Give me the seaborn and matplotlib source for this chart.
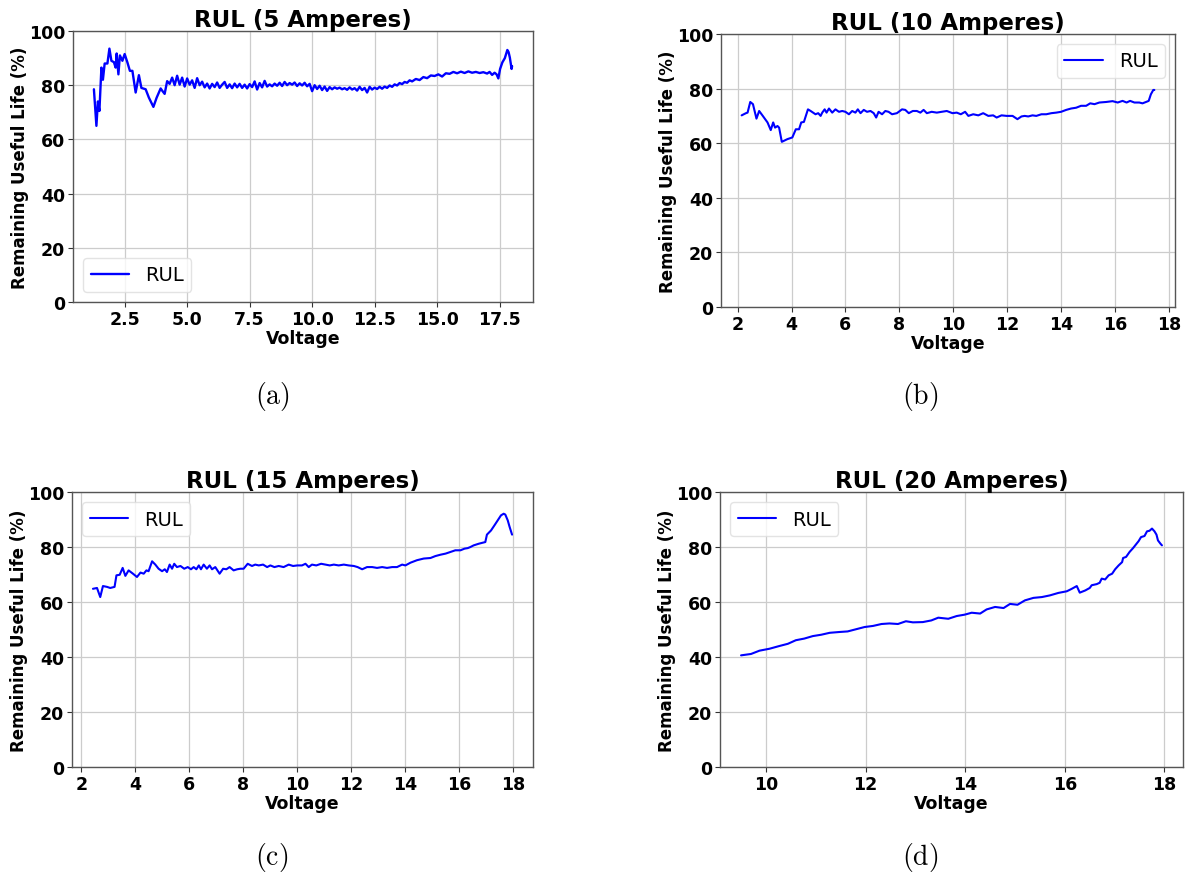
import numpy as np
import pandas as pd
import matplotlib
matplotlib.use("Agg")
import matplotlib.pyplot as plt
import seaborn as sns

# ---------------- data ----------------
titles = ["RUL (5 Amperes)", "RUL (10 Amperes)", "RUL (15 Amperes)", "RUL (20 Amperes)"]
captions = ["(a)", "(b)", "(c)", "(d)"]
legend_locs = ["lower left", "upper right", "upper left", "upper left"]

volt_5a = [1.27, 1.37, 1.43, 1.49, 1.57, 1.63, 1.70, 1.81, 1.89, 1.97, 2.07, 2.14, 2.18, 2.25,
           2.31, 2.41, 2.50, 2.61, 2.71, 2.81, 2.94, 3.07, 3.17, 3.34, 3.47, 3.65, 3.78, 3.94,
           4.0, 4.1, 4.2, 4.3, 4.4, 4.5, 4.6, 4.7, 4.8, 4.9,
           5.0, 5.1, 5.2, 5.3, 5.4, 5.5, 5.6, 5.7, 5.8, 5.9,
           6.0, 6.1, 6.2, 6.3, 6.4, 6.5, 6.6, 6.7, 6.8, 6.9,
           7.0, 7.1, 7.2, 7.3, 7.4, 7.5, 7.6, 7.7, 7.8, 7.9,
           8.0, 8.1, 8.2, 8.3, 8.4, 8.5, 8.6, 8.7, 8.8, 8.9,
           9.0, 9.1, 9.2, 9.3, 9.4, 9.5, 9.6, 9.7, 9.8, 9.9,
           10.0, 10.1, 10.2, 10.3, 10.4, 10.5, 10.6, 10.7, 10.8, 10.9,
           11.0, 11.1, 11.2, 11.3, 11.4, 11.5, 11.6, 11.7, 11.8, 11.9,
           12.0, 12.1, 12.2, 12.3, 12.4, 12.5, 12.6, 12.7, 12.8, 12.9,
           13.0, 13.1, 13.2, 13.3, 13.4, 13.5, 13.6, 13.7, 13.8, 13.9,
           14.0, 14.15, 14.3, 14.45, 14.6, 14.75, 14.9, 15.05, 15.2, 15.35, 15.5, 15.65, 15.8,
           15.95, 16.1, 16.25, 16.4, 16.55, 16.7, 16.85, 17.0, 17.1, 17.2, 17.3, 17.38, 17.45,
           17.52, 17.61, 17.71, 17.81, 17.86, 17.91, 17.98, 18.0]
rul_5a = [78.5, 65.0, 74.0, 70.5, 86.5, 82.0, 88.0, 88.0, 93.5, 89.0, 88.5, 86.5, 91.7, 84.0,
          91.0, 89.0, 91.5, 88.4, 85.3, 85.3, 77.3, 83.7, 79.0, 78.5, 75.4, 72.0, 75.4, 78.8,
          78.0, 76.8, 81.5, 80.5, 82.8, 80.0, 83.5, 80.2, 82.8, 79.5,
          82.5, 80.2, 81.8, 79.0, 82.6, 80.0, 81.3, 79.2, 80.6, 78.8,
          80.5, 79.3, 81.0, 79.0, 80.2, 81.2, 79.0, 80.3, 78.9, 80.6,
          79.2, 80.5, 79.0, 80.2, 78.8, 80.4, 79.3, 81.4, 78.4, 80.8,
          79.2, 81.6, 79.5, 80.3, 79.6, 80.6, 79.8, 80.9, 79.7, 81.2,
          80.0, 80.8, 80.2, 81.0, 79.7, 80.7, 79.9, 80.9, 79.6, 80.5,
          77.8, 80.0, 78.6, 79.8, 78.2, 79.5, 77.9, 79.3, 78.5, 79.2,
          78.7, 79.1, 78.5, 78.9, 78.3, 79.2, 78.4, 78.9, 78.0, 79.4,
          78.2, 79.0, 77.3, 79.4, 78.4, 79.1, 78.6, 79.4, 78.7, 79.5,
          79.0, 79.9, 79.4, 80.3, 79.9, 80.8, 80.4, 81.2, 80.9, 81.8,
          81.4, 82.3, 81.9, 83.0, 82.6, 83.6, 83.4, 84.0, 83.2, 84.4, 84.2, 84.9, 84.4,
          85.0, 84.5, 85.1, 84.6, 84.9, 84.5, 84.8, 84.3, 84.9, 83.8, 84.6, 84.0, 82.5,
          86.0, 88.4, 90.0, 93.0, 92.2, 90.2, 86.0, 87.0]

volt_10a = [2.15, 2.31, 2.37, 2.47, 2.57, 2.70, 2.80, 2.92, 3.11, 3.23, 3.32, 3.39, 3.48, 3.54,
            3.64, 3.85, 4.03, 4.16, 4.28, 4.36, 4.46, 4.61, 4.71, 4.89, 4.99, 5.08, 5.14, 5.23,
            5.30, 5.39, 5.51, 5.63, 5.76, 5.88, 6.00, 6.13, 6.25, 6.37, 6.46, 6.56, 6.68, 6.80,
            6.93, 7.05, 7.14, 7.23, 7.36, 7.48, 7.60, 7.73, 7.91, 8.10, 8.22, 8.35, 8.50, 8.65,
            8.78, 8.90, 9.02, 9.20, 9.39, 9.57, 9.76, 9.97, 10.13, 10.28, 10.44, 10.56, 10.74,
            10.93, 11.11, 11.30, 11.48, 11.61, 11.79, 11.98, 12.20, 12.38, 12.53, 12.65, 12.78,
            12.94, 13.08, 13.27, 13.45, 13.64, 13.82, 14.00, 14.19, 14.37, 14.56, 14.74, 14.93,
            15.08, 15.24, 15.42, 15.67, 15.91, 16.10, 16.28, 16.43, 16.56, 16.72, 16.90, 17.02,
            17.15, 17.25, 17.33, 17.42, 17.46]
rul_10a = [70.2, 71.0, 71.2, 75.1, 74.3, 69.0, 71.8, 70.2, 67.6, 64.8, 67.6, 65.7, 66.3, 65.7,
           60.5, 61.5, 62.1, 65.1, 65.1, 67.6, 67.8, 72.4, 71.8, 70.6, 71.0, 70.0, 71.2, 72.4,
           71.2, 72.7, 71.2, 72.4, 71.5, 71.8, 71.5, 70.6, 71.8, 71.2, 72.4, 71.0, 72.2, 71.5,
           71.8, 71.0, 69.4, 71.5, 70.6, 71.8, 71.5, 70.6, 71.0, 72.4, 72.2, 71.0, 71.8, 71.8,
           71.2, 72.2, 71.0, 71.5, 71.2, 71.5, 71.8, 71.0, 71.2, 70.6, 71.5, 70.0, 70.6, 70.2,
           71.0, 70.0, 70.2, 69.4, 70.2, 70.0, 70.0, 68.8, 69.8, 70.0, 69.8, 70.2, 70.0, 70.6,
           70.6, 71.0, 71.2, 71.5, 72.2, 72.7, 73.0, 73.7, 73.7, 74.6, 74.3, 74.9, 75.1, 75.4,
           74.9, 75.5, 74.9, 75.5, 74.9, 74.9, 74.6, 75.1, 75.5, 77.9, 79.5, 79.5]

volt_15a = [2.43, 2.58, 2.70, 2.80, 2.95, 3.07, 3.23, 3.30, 3.42, 3.53, 3.63, 3.75, 3.91, 4.06,
            4.19, 4.31, 4.41, 4.49, 4.62, 4.74, 4.86, 4.99, 5.09, 5.17, 5.27, 5.36, 5.44, 5.54,
            5.67, 5.81, 5.94, 6.06, 6.16, 6.26, 6.35, 6.43, 6.53, 6.65, 6.75, 6.84, 6.96, 7.12,
            7.25, 7.37, 7.49, 7.64, 7.77, 7.89, 8.01, 8.16, 8.32, 8.44, 8.57, 8.73, 8.88, 9.00,
            9.15, 9.31, 9.49, 9.68, 9.84, 10.00, 10.17, 10.30, 10.42, 10.54, 10.70, 10.88, 11.04,
            11.20, 11.35, 11.53, 11.72, 11.90, 12.09, 12.23, 12.40, 12.58, 12.77, 12.95, 13.14,
            13.32, 13.51, 13.69, 13.88, 14.00, 14.19, 14.43, 14.68, 14.93, 15.11, 15.30, 15.49,
            15.67, 15.85, 16.04, 16.19, 16.31, 16.41, 16.53, 16.72, 16.96, 17.02, 17.17, 17.30,
            17.42, 17.54, 17.64, 17.70, 17.79, 17.86, 17.95]
rul_15a = [64.8, 65.1, 61.8, 65.8, 65.5, 65.1, 65.5, 69.7, 69.9, 72.4, 69.5, 71.5, 70.3, 69.1,
           70.7, 70.3, 71.5, 71.2, 74.8, 73.6, 72.1, 71.2, 71.9, 70.9, 73.6, 72.1, 73.9, 72.7,
           73.1, 72.1, 72.7, 71.9, 72.7, 71.9, 73.3, 71.9, 73.6, 72.1, 73.3, 71.9, 72.7, 70.3,
           72.1, 71.9, 72.7, 71.5, 71.9, 72.1, 72.1, 73.9, 73.1, 73.6, 73.3, 73.6, 72.7, 73.3,
           72.7, 73.1, 72.7, 73.6, 73.1, 73.3, 73.3, 73.9, 72.7, 73.6, 73.3, 73.9, 73.6, 73.3,
           73.6, 73.3, 73.6, 73.3, 73.1, 72.7, 71.9, 72.7, 72.7, 72.4, 72.7, 72.4, 72.7, 72.7,
           73.6, 73.3, 74.3, 75.2, 75.8, 76.0, 76.7, 77.2, 77.6, 78.2, 78.8, 78.8, 79.4, 79.6,
           80.0, 80.6, 81.2, 81.8, 84.5, 86.0, 87.9, 89.7, 91.5, 92.1, 91.8, 89.7, 87.3, 84.5]

volt_20a = [9.50, 9.70, 9.87, 10.07, 10.27, 10.44, 10.60, 10.77, 10.94, 11.11, 11.28, 11.48,
            11.64, 11.81, 11.98, 12.15, 12.32, 12.48, 12.65, 12.81, 12.95, 13.15, 13.32, 13.46,
            13.66, 13.83, 13.99, 14.13, 14.30, 14.43, 14.60, 14.77, 14.90, 15.05, 15.20, 15.37,
            15.54, 15.70, 15.87, 16.04, 16.14, 16.24, 16.30, 16.41, 16.50, 16.54, 16.64, 16.70,
            16.74, 16.81, 16.88, 16.95, 17.01, 17.08, 17.15, 17.17, 17.23, 17.30, 17.37, 17.44,
            17.48, 17.53, 17.60, 17.65, 17.70, 17.75, 17.80, 17.84, 17.87, 17.92, 17.95]
rul_20a = [40.6, 41.1, 42.3, 43.0, 44.0, 44.8, 46.1, 46.7, 47.6, 48.1, 48.8, 49.1, 49.3, 50.1,
           50.9, 51.3, 52.0, 52.2, 52.0, 53.0, 52.6, 52.7, 53.3, 54.3, 53.9, 54.9, 55.4, 56.1,
           55.8, 57.3, 58.2, 57.8, 59.3, 59.0, 60.6, 61.5, 61.8, 62.4, 63.3, 63.9, 64.8, 65.8,
           63.4, 64.2, 65.1, 66.1, 66.5, 67.0, 68.5, 68.2, 69.7, 70.3, 71.9, 73.3, 74.5, 76.0,
           76.4, 78.2, 79.6, 81.2, 82.1, 83.6, 84.0, 85.7, 85.9, 86.7, 85.7, 84.5, 82.4, 81.2,
           80.6]

series = [(volt_5a, rul_5a), (volt_10a, rul_10a), (volt_15a, rul_15a), (volt_20a, rul_20a)]
xticks_list = [[2.5, 5.0, 7.5, 10.0, 12.5, 15.0, 17.5],
               [2, 4, 6, 8, 10, 12, 14, 16, 18],
               [2, 4, 6, 8, 10, 12, 14, 16, 18],
               [10, 12, 14, 16, 18]]
xtick_fmt = ["{:.1f}", "{:d}", "{:d}", "{:d}"]
yticks = [0, 20, 40, 60, 80, 100]

# ---------------- style ----------------
sns.set_theme(style="ticks")
plt.rcParams["font.family"] = ["DejaVu Sans"]
plt.rcParams["mathtext.fontset"] = "cm"
plt.rcParams["text.color"] = "black"
plt.rcParams["axes.labelcolor"] = "black"

W, H = 1188, 878
fig = plt.figure(figsize=(W / 100, H / 100), dpi=100)

# axes boxes in pixels: left, top, right, bottom
boxes = [(73, 32, 533, 303), (721, 35, 1175, 308), (72, 493, 533, 768), (720, 493, 1183, 768)]
cap_pos = [(272, 397), (920, 397), (272, 858), (920, 858)]
lws = [1.7, 1.5, 1.5, 1.5]

for i, (xv, yv) in enumerate(series):
    l, t, r, b = boxes[i]
    ax = fig.add_axes([l / W, 1 - b / H, (r - l) / W, (b - t) / H])
    df = pd.DataFrame({"Voltage": xv, "RUL": yv})
    sns.lineplot(data=df, x="Voltage", y="RUL", ax=ax, color="#0000ff",
                 linewidth=lws[i], label="RUL", estimator=None)
    ax.set_ylim(0, 100)
    ax.set_yticks(yticks)
    ax.set_xticks(xticks_list[i])
    fmt = xtick_fmt[i]
    ax.set_xticklabels([fmt.format(v) if fmt == "{:.1f}" else fmt.format(int(v))
                        for v in xticks_list[i]])
    ax.grid(True, color="#cccccc", linewidth=0.9)
    for s in ax.spines.values():
        s.set_color("#555555")
        s.set_linewidth(1.0)
    ax.tick_params(axis="both", labelsize=12.5, length=3.5, width=0.8, colors="#333333",
                   labelcolor="black", pad=2)
    for lab in ax.get_xticklabels() + ax.get_yticklabels():
        lab.set_fontweight("bold")
    ax.set_xlabel("Voltage", fontsize=12.5, fontweight="bold", labelpad=1, color="black")
    ax.set_ylabel("Remaining Useful Life (%)", fontsize=12, fontweight="bold", labelpad=0,
                  color="black")
    ax.set_title(titles[i], fontsize=16.5, fontweight="bold", pad=3, color="black")
    leg = ax.legend(loc=legend_locs[i], fontsize=14, framealpha=0.8, edgecolor="#dddddd",
                    fancybox=True)
    for txt in leg.get_texts():
        txt.set_color("black")
    fig.text(cap_pos[i][0] / W, 1 - cap_pos[i][1] / H, r"$\mathrm{" + captions[i] + "}$",
             ha="center", va="center", fontsize=20, color="black")

fig.savefig("out.png", dpi=100, facecolor="white")
